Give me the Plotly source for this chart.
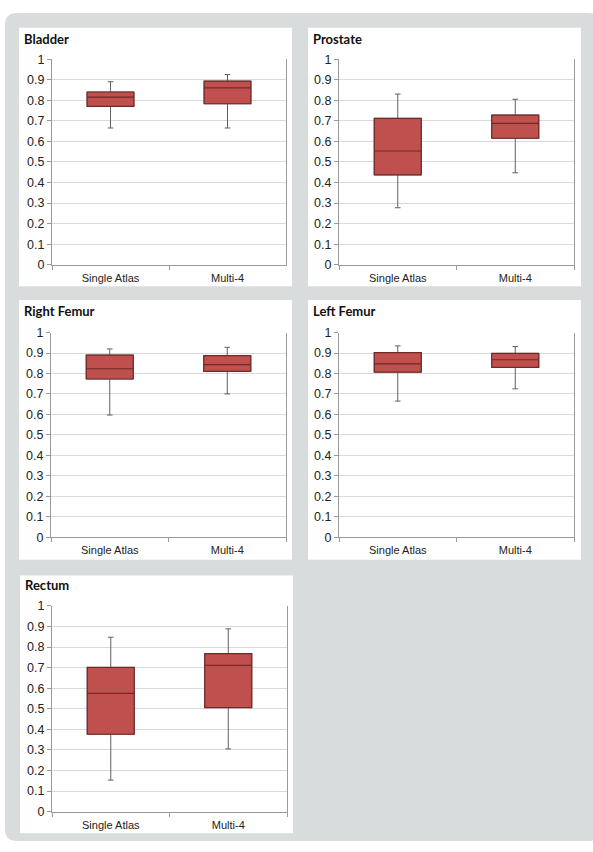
import plotly.graph_objects as go

categories = ["Single Atlas", "Multi-4"]
organs = ["Bladder", "Prostate", "Right Femur", "Left Femur", "Rectum"]

# per organ: [Single Atlas, Multi-4]
lower = {
    "Bladder": [0.665, 0.665],
    "Prostate": [0.277, 0.447],
    "Right Femur": [0.597, 0.700],
    "Left Femur": [0.665, 0.725],
    "Rectum": [0.153, 0.305],
}
q1 = {
    "Bladder": [0.770, 0.783],
    "Prostate": [0.437, 0.615],
    "Right Femur": [0.773, 0.810],
    "Left Femur": [0.807, 0.830],
    "Rectum": [0.376, 0.506],
}
median = {
    "Bladder": [0.815, 0.860],
    "Prostate": [0.553, 0.687],
    "Right Femur": [0.823, 0.843],
    "Left Femur": [0.847, 0.867],
    "Rectum": [0.575, 0.711],
}
q3 = {
    "Bladder": [0.840, 0.893],
    "Prostate": [0.712, 0.728],
    "Right Femur": [0.890, 0.887],
    "Left Femur": [0.902, 0.898],
    "Rectum": [0.701, 0.768],
}
upper = {
    "Bladder": [0.890, 0.925],
    "Prostate": [0.830, 0.805],
    "Right Femur": [0.920, 0.928],
    "Left Femur": [0.935, 0.932],
    "Rectum": [0.848, 0.889],
}
y_ticks = [0, 0.1, 0.2, 0.3, 0.4, 0.5, 0.6, 0.7, 0.8, 0.9, 1]
y_ticktext = ["0", "0.1", "0.2", "0.3", "0.4", "0.5", "0.6", "0.7", "0.8", "0.9", "1"]

W, H = 593, 852
# plot areas in pixels: (x0, x1, ytop, ybottom)
plot_px = [
    (52, 286, 53, 262),
    (339, 574, 53, 262),
    (51, 286, 331, 539),
    (339, 574, 331, 539),
    (52, 287, 609, 818),
]
panel_px = [
    (19, 292, 21, 284),
    (308, 581, 21, 284),
    (19, 292, 298, 562),
    (308, 581, 298, 562),
    (20, 293, 578, 840),
]
title_px = [(22, 33), (311, 33), (22, 309), (311, 309), (23, 588)]

BOX_FILL = "#C0504D"
BOX_LINE = "#6E2A28"
WHISKER = "#606060"

fig = go.Figure()
shapes = []
annotations = []


def rr(x0, y0, x1, y1, r):
    # rounded rectangle path in paper coords (input pixels)
    def px(x):
        return x / W

    def py(y):
        return 1 - y / H
    return (f"M {px(x0+r)},{py(y0)} L {px(x1-r)},{py(y0)} "
            f"Q {px(x1)},{py(y0)} {px(x1)},{py(y0+r)} L {px(x1)},{py(y1-r)} "
            f"Q {px(x1)},{py(y1)} {px(x1-r)},{py(y1)} L {px(x0+r)},{py(y1)} "
            f"Q {px(x0)},{py(y1)} {px(x0)},{py(y1-r)} L {px(x0)},{py(y0+r)} "
            f"Q {px(x0)},{py(y0)} {px(x0+r)},{py(y0)} Z")


shapes.append(dict(type="path", xref="paper", yref="paper", layer="below",
                   path=rr(5, 6, 600, 848, 12),
                   fillcolor="#D9DCDC", line=dict(width=0)))

for (x0, x1, y0, y1) in panel_px:
    shapes.append(dict(type="rect", xref="paper", yref="paper", layer="below",
                       x0=x0 / W, x1=x1 / W, y0=1 - y1 / H, y1=1 - y0 / H,
                       fillcolor="white", line=dict(width=0)))

for i, organ in enumerate(organs):
    k = i + 1
    xa = "x" if k == 1 else f"x{k}"
    ya = "y" if k == 1 else f"y{k}"
    # whiskers (gray)
    fig.add_trace(go.Box(
        x=categories, q1=q1[organ], median=median[organ], q3=q3[organ],
        lowerfence=lower[organ], upperfence=upper[organ],
        xaxis=xa, yaxis=ya, width=0.4, whiskerwidth=0.12,
        fillcolor=BOX_FILL, line=dict(color=WHISKER, width=1),
        showlegend=False, hoverinfo="skip"))
    # box body (dark outline)
    fig.add_trace(go.Box(
        x=categories, q1=q1[organ], median=median[organ], q3=q3[organ],
        lowerfence=q1[organ], upperfence=q3[organ],
        xaxis=xa, yaxis=ya, width=0.4, whiskerwidth=0,
        fillcolor=BOX_FILL, line=dict(color=BOX_LINE, width=1.2),
        showlegend=False))

    x0, x1, yt, yb = plot_px[i]
    xkey = "xaxis" if k == 1 else f"xaxis{k}"
    ykey = "yaxis" if k == 1 else f"yaxis{k}"
    fig.layout[xkey] = dict(
        domain=[x0 / W, x1 / W], anchor=ya,
        categoryorder="array", categoryarray=categories,
        range=[-0.5, 1.5], autorange=False,
        showline=True, linecolor="#9A9A9A", linewidth=1,
        ticks="outside", tickson="boundaries", ticklen=4, tickcolor="#9A9A9A",
        ticklabelstandoff=3,
        showgrid=False, zeroline=False,
        tickfont=dict(family="Liberation Sans", size=11, color="#222"),
        fixedrange=True)
    fig.layout[ykey] = dict(
        domain=[1 - yb / H, 1 - yt / H], anchor=xa,
        range=[0, 1], autorange=False, tickvals=y_ticks, ticktext=y_ticktext,
        showline=True, linecolor="#9A9A9A", linewidth=1, mirror=True,
        ticks="outside", ticklen=4, tickcolor="#9A9A9A",
        showgrid=True, gridcolor="#D9D9D9", gridwidth=1,
        zeroline=False,
        tickfont=dict(family="Liberation Sans", size=12.5, color="#222"),
        fixedrange=True)
    tx, ty = title_px[i]
    annotations.append(dict(
        text=f"<b>{organ}</b>", xref="paper", yref="paper",
        x=tx / W, y=1 - ty / H, xanchor="left", yanchor="middle",
        showarrow=False, font=dict(family="Lato", size=13, color="#111")))

fig.update_layout(
    width=W, height=H, margin=dict(l=0, r=0, t=0, b=0),
    paper_bgcolor="white", plot_bgcolor="rgba(0,0,0,0)",
    boxmode="overlay", shapes=shapes, annotations=annotations,
    showlegend=False)

fig.write_html("out.html")
